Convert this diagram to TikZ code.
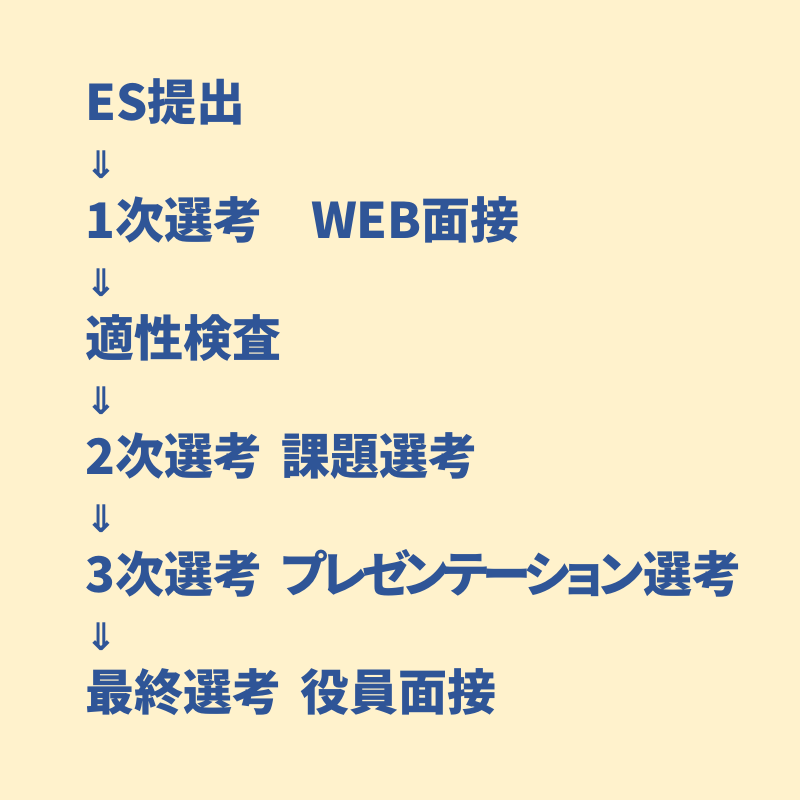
\documentclass[tikz,border=0pt]{standalone}
\usepackage{fontspec}
\newfontfamily\jpfont{Noto Sans CJK JP}[WordSpace=1.7]
\newfontfamily\kanafont{Noto Sans CJK JP}[RawFeature=+palt, LetterSpace=-11]
\newfontfamily\arrowfont{DejaVu Sans}
\definecolor{stepblue}{HTML}{2F5597}
\definecolor{paper}{HTML}{FFF2CC}
\tikzset{
  stage/.style={anchor=base west, inner sep=0pt, text=stepblue,
    font=\jpfont\bfseries\fontsize{49}{49}\selectfont},
  down/.style={anchor=base west, inner sep=0pt, text=stepblue,
    font=\arrowfont\bfseries\fontsize{38}{38}\selectfont}
}
\begin{document}
\begin{tikzpicture}[x=1pt,y=1pt]
    \fill[paper] (0,0) rectangle (800,-800);
    \useasboundingbox (0,0) rectangle (800,-800);

    \node[stage] (ES) at (85,-120) {ES提出};
    \node[down]  (A1) at (85,-178) {⇓};
    \node[stage] (S1) at (85,-238) {1次選考　WEB面接};
    \node[down]  (A2) at (85,-296) {⇓};
    \node[stage] (T)  at (85,-356) {適性検査};
    \node[down]  (A3) at (85,-414) {⇓};
    \node[stage] (S2) at (85,-474) {2次選考 課題選考};
    \node[down]  (A4) at (85,-532) {⇓};
    \node[stage] (S3) at (85,-592) {3次選考 {\kanafont\bfseries プレゼンテーション}選考};
    \node[down]  (A5) at (85,-650) {⇓};
    \node[stage] (F)  at (85,-710) {最終選考 役員面接};
\end{tikzpicture}
\end{document}
